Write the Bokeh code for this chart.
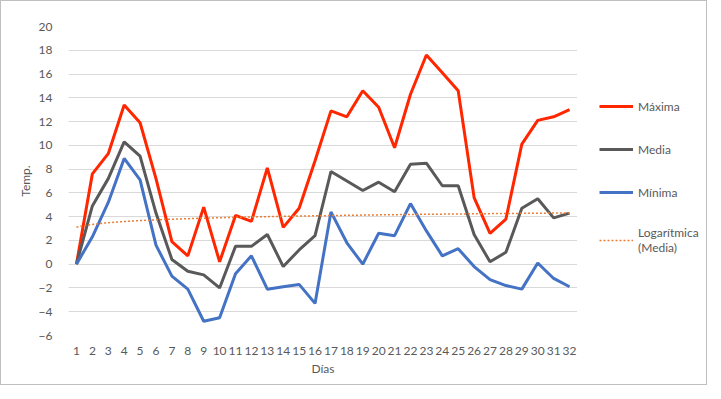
import numpy as np
from bokeh.plotting import figure
from bokeh.layouts import row
from bokeh.models import FixedTicker, Legend, LegendItem, Range1d
from bokeh.embed import file_html
from bokeh.resources import INLINE

days = list(range(1, 33))
maxima = [0, 7.6, 9.3, 13.4, 11.9, 7.2, 1.9, 0.7, 4.8, 0.2, 4.1, 3.6, 8.1, 3.1, 4.7, 8.7,
          12.9, 12.4, 14.6, 13.2, 9.8, 14.3, 17.6, 16.1, 14.6, 5.6, 2.6, 3.8, 10.1, 12.1, 12.4, 13.0]
media = [0, 4.9, 7.2, 10.3, 9.1, 4.3, 0.4, -0.6, -0.9, -2.0, 1.5, 1.5, 2.5, -0.2, 1.2, 2.4,
         7.8, 7.0, 6.2, 6.9, 6.1, 8.4, 8.5, 6.6, 6.6, 2.5, 0.2, 1.0, 4.7, 5.5, 3.9, 4.3]
minima = [0, 2.3, 5.2, 8.9, 7.1, 1.6, -1.0, -2.1, -4.8, -4.5, -0.8, 0.7, -2.1, -1.9, -1.7, -3.3,
          4.4, 1.8, 0.0, 2.6, 2.4, 5.1, 2.8, 0.7, 1.3, -0.2, -1.3, -1.8, -2.1, 0.1, -1.2, -1.9]
y_ticks = list(range(-6, 21, 2))
series_names = ["Máxima", "Media", "Mínima", "Logarítmica\n(Media)"]

# logarithmic trendline fitted on "Media"
a, b = np.polyfit(np.log(days), media, 1)
tx = np.linspace(1, 32, 200)
ty = a * np.log(tx) + b

FONT = "Lato"
GRAY = "#595959"
COLORS = ["#ff2600", "#595959", "#4472c4", "#ed7d31"]

p = figure(width=576, height=383, output_backend="svg", toolbar_location=None,
           x_range=Range1d(0.5, 32.5), y_range=Range1d(-6, 20),
           min_border_left=67, min_border_right=0, min_border_top=25, min_border_bottom=49)
p.outline_line_color = None
p.xgrid.grid_line_color = None
p.ygrid.grid_line_color = "#d9d9d9"
p.ygrid.grid_line_width = 1

for ax in (p.xaxis[0], p.yaxis[0]):
    ax.axis_line_color = None
    ax.major_tick_line_color = None
    ax.minor_tick_line_color = None
    ax.major_label_text_font = FONT
    ax.major_label_text_font_size = "12px"
    ax.major_label_text_color = GRAY
    ax.axis_label_text_font = FONT
    ax.axis_label_text_font_size = "12px"
    ax.axis_label_text_color = GRAY
    ax.axis_label_text_font_style = "normal"

p.xaxis.ticker = FixedTicker(ticks=days)
p.yaxis.ticker = FixedTicker(ticks=y_ticks)
p.xaxis.axis_label = "Días"
p.yaxis.axis_label = "Temp."
p.xaxis.major_label_standoff = 5
p.yaxis.major_label_standoff = 10
p.xaxis.axis_label_standoff = 3
p.yaxis.axis_label_standoff = 3

p.line(days, maxima, line_color=COLORS[0], line_width=3)
p.line(days, media, line_color=COLORS[1], line_width=3)
p.line(days, minima, line_color=COLORS[2], line_width=3)
p.line(tx, ty, line_color=COLORS[3], line_width=1.5, line_dash="2 2")

# legend panel (its lines are drawn out of view; only their legend glyphs show)
q = figure(width=129, height=383, output_backend="svg", toolbar_location=None,
           x_range=Range1d(1000, 1001), y_range=Range1d(1000, 1001),
           min_border_left=0, min_border_right=0, min_border_top=0, min_border_bottom=0,
           x_axis_location=None, y_axis_location=None)
q.outline_line_color = None
q.grid.grid_line_color = None
lr = [q.line(days, maxima, line_color=COLORS[0], line_width=3),
      q.line(days, media, line_color=COLORS[1], line_width=3),
      q.line(days, minima, line_color=COLORS[2], line_width=3),
      q.line(tx, ty, line_color=COLORS[3], line_width=1.5, line_dash="2 2")]
legend = Legend(items=[LegendItem(label=n, renderers=[r]) for n, r in zip(series_names, lr)],
                location=(22, 80), padding=0, margin=0, spacing=23,
                glyph_width=34, glyph_height=20, label_height=20, label_standoff=5,
                border_line_alpha=0, background_fill_alpha=0,
                label_text_font=FONT, label_text_font_size="12px", label_text_color=GRAY)
q.add_layout(legend, "center")

layout = row(p, q, styles={"border": "1px solid #bfbfbf"})

open("out.html", "w").write(file_html(layout, INLINE))
